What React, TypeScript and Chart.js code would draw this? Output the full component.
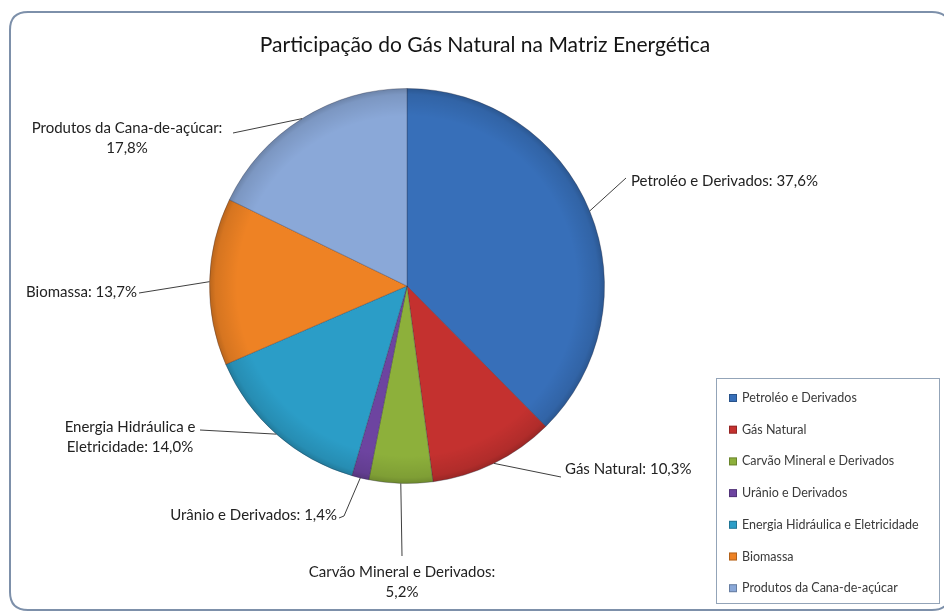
import React, { useEffect, useRef } from "react";
import { Chart, registerables } from "chart.js";

Chart.register(...registerables);

const TITLE = "Participação do Gás Natural na Matriz Energética";
const categories = [
  "Petroléo e Derivados",
  "Gás Natural",
  "Carvão Mineral e Derivados",
  "Urânio e Derivados",
  "Energia Hidráulica e Eletricidade",
  "Biomassa",
  "Produtos da Cana-de-açúcar",
];
const shares = [37.6, 10.3, 5.2, 1.4, 14.0, 13.7, 17.8];
const sliceColors = ["#376fb9", "#c4312f", "#8db03b", "#6d44a0", "#2b9dc7", "#ee8224", "#8aa8d8"];
// number of words on the first line of each data label (0 = single line)
const labelBreakWords = [0, 0, 4, 0, 3, 0, 3];
// leader line end point and text anchor of each data label (canvas px)
const leaderEnds = [[[626, 178]], [[561, 477]], [[402, 556]], [[344, 516], [339, 518]], [[200, 430]], [[139, 293]], [[233, 133]]];
const labelAnchors = [
  { x: 631, y: 181, align: "left" },
  { x: 565, y: 469, align: "left" },
  { x: 402, y: 572, align: "center" },
  { x: 337, y: 515, align: "right" },
  { x: 130, y: 427, align: "center" },
  { x: 137, y: 292, align: "right" },
  { x: 127, y: 128, align: "center" },
];

const LABEL_FONT = "15px Lato";
const LEGEND_FONT = "12.5px Lato";
const TITLE_FONT = "21px Lato";

function fmtPct(v: number) {
  return v.toFixed(1).replace(".", ",") + "%";
}

function labelLines(i: number): string[] {
  const full = `${categories[i]}: ${fmtPct(shares[i])}`;
  const n = labelBreakWords[i];
  if (!n) return [full];
  const words = full.split(" ");
  return [words.slice(0, n).join(" "), words.slice(n).join(" ")];
}

function roundRect(ctx: CanvasRenderingContext2D, x: number, y: number, w: number, h: number, r: number) {
  ctx.beginPath();
  ctx.moveTo(x + r, y);
  ctx.lineTo(x + w - r, y);
  ctx.quadraticCurveTo(x + w, y, x + w, y + r);
  ctx.lineTo(x + w, y + h - r);
  ctx.quadraticCurveTo(x + w, y + h, x + w - r, y + h);
  ctx.lineTo(x + r, y + h);
  ctx.quadraticCurveTo(x, y + h, x, y + h - r);
  ctx.lineTo(x, y + r);
  ctx.quadraticCurveTo(x, y, x + r, y);
  ctx.closePath();
}

const decorPlugin = {
  id: "decor",
  beforeDraw(chart: any) {
    const ctx = chart.ctx as CanvasRenderingContext2D;
    ctx.save();
    ctx.fillStyle = "#ffffff";
    ctx.fillRect(0, 0, chart.width, chart.height);
    roundRect(ctx, 10, 12, 940, 598, 18);
    ctx.strokeStyle = "#7d90aa";
    ctx.lineWidth = 2;
    ctx.stroke();
    // title
    ctx.fillStyle = "#141414";
    ctx.font = TITLE_FONT;
    ctx.textAlign = "center";
    ctx.textBaseline = "middle";
    ctx.fillText(TITLE, 485, 45);
    ctx.restore();
  },
  afterDatasetsDraw(chart: any) {
    const ctx = chart.ctx as CanvasRenderingContext2D;
    const meta = chart.getDatasetMeta(0);
    const first = meta.data[0];
    const cx = first.x, cy = first.y, R = first.outerRadius;
    ctx.save();
    // soft 3D edge shading
    const g = ctx.createRadialGradient(cx, cy, 0, cx, cy, R);
    g.addColorStop(0, "rgba(0,0,0,0)");
    g.addColorStop(0.86, "rgba(0,0,0,0)");
    g.addColorStop(0.97, "rgba(0,0,0,0.10)");
    g.addColorStop(1, "rgba(0,0,0,0.22)");
    ctx.beginPath();
    ctx.arc(cx, cy, R, 0, Math.PI * 2);
    ctx.fillStyle = g;
    ctx.fill();

    // leader lines + data labels
    ctx.strokeStyle = "#3f3f3f";
    ctx.lineWidth = 1;
    ctx.fillStyle = "#222222";
    ctx.font = LABEL_FONT;
    ctx.textBaseline = "middle";
    meta.data.forEach((arc: any, i: number) => {
      const mid = (arc.startAngle + arc.endAngle) / 2;
      const sx = arc.x + Math.cos(mid) * arc.outerRadius;
      const sy = arc.y + Math.sin(mid) * arc.outerRadius;
      ctx.beginPath();
      ctx.moveTo(sx, sy);
      leaderEnds[i].forEach((p) => ctx.lineTo(p[0], p[1]));
      ctx.stroke();
      const a = labelAnchors[i];
      const lines = labelLines(i);
      lines.forEach((t, k) => {
        ctx.textAlign = a.align as CanvasTextAlign;
        ctx.fillText(t, a.x, a.y + k * 20.5);
      });
    });

    // legend
    const lx = 716.5, ly = 378.5, lw = 223, lh = 225;
    ctx.strokeStyle = "#93a4b8";
    ctx.lineWidth = 1;
    ctx.strokeRect(lx, ly, lw, lh);
    ctx.font = LEGEND_FONT;
    ctx.textAlign = "left";
    ctx.textBaseline = "middle";
    categories.forEach((c, i) => {
      const y = 398 + i * 31.7;
      ctx.fillStyle = sliceColors[i];
      ctx.fillRect(729, y - 4, 8, 8);
      ctx.strokeStyle = "rgba(0,0,0,0.25)";
      ctx.strokeRect(729.5, y - 3.5, 7, 7);
      ctx.fillStyle = "#3a3a3a";
      ctx.fillText(c, 742, y);
    });
    ctx.restore();
  },
};

export default function App() {
  const ref = useRef<HTMLCanvasElement | null>(null);
  useEffect(() => {
    if (!ref.current) return;
    const chart = new Chart(ref.current, {
      type: "pie",
      data: {
        labels: categories,
        datasets: [
          {
            data: shares,
            backgroundColor: sliceColors,
            borderColor: "rgba(40,40,60,0.3)",
            borderWidth: 1,
          },
        ],
      },
      options: {
        responsive: false,
        animation: false,
        devicePixelRatio: 1,
        layout: { padding: { left: 209, right: 339, top: 88, bottom: 132 } },
        plugins: {
          legend: { display: false },
          tooltip: { enabled: false },
          title: { display: false },
        },
      },
      plugins: [decorPlugin],
    });
    return () => chart.destroy();
  }, []);
  return (
    <div style={{ position: "fixed", left: 0, top: 0, width: 944, height: 616, background: "#fff" }}>
      <canvas ref={ref} width={944} height={616} style={{ display: "block", width: 944, height: 616 }} />
    </div>
  );
}
